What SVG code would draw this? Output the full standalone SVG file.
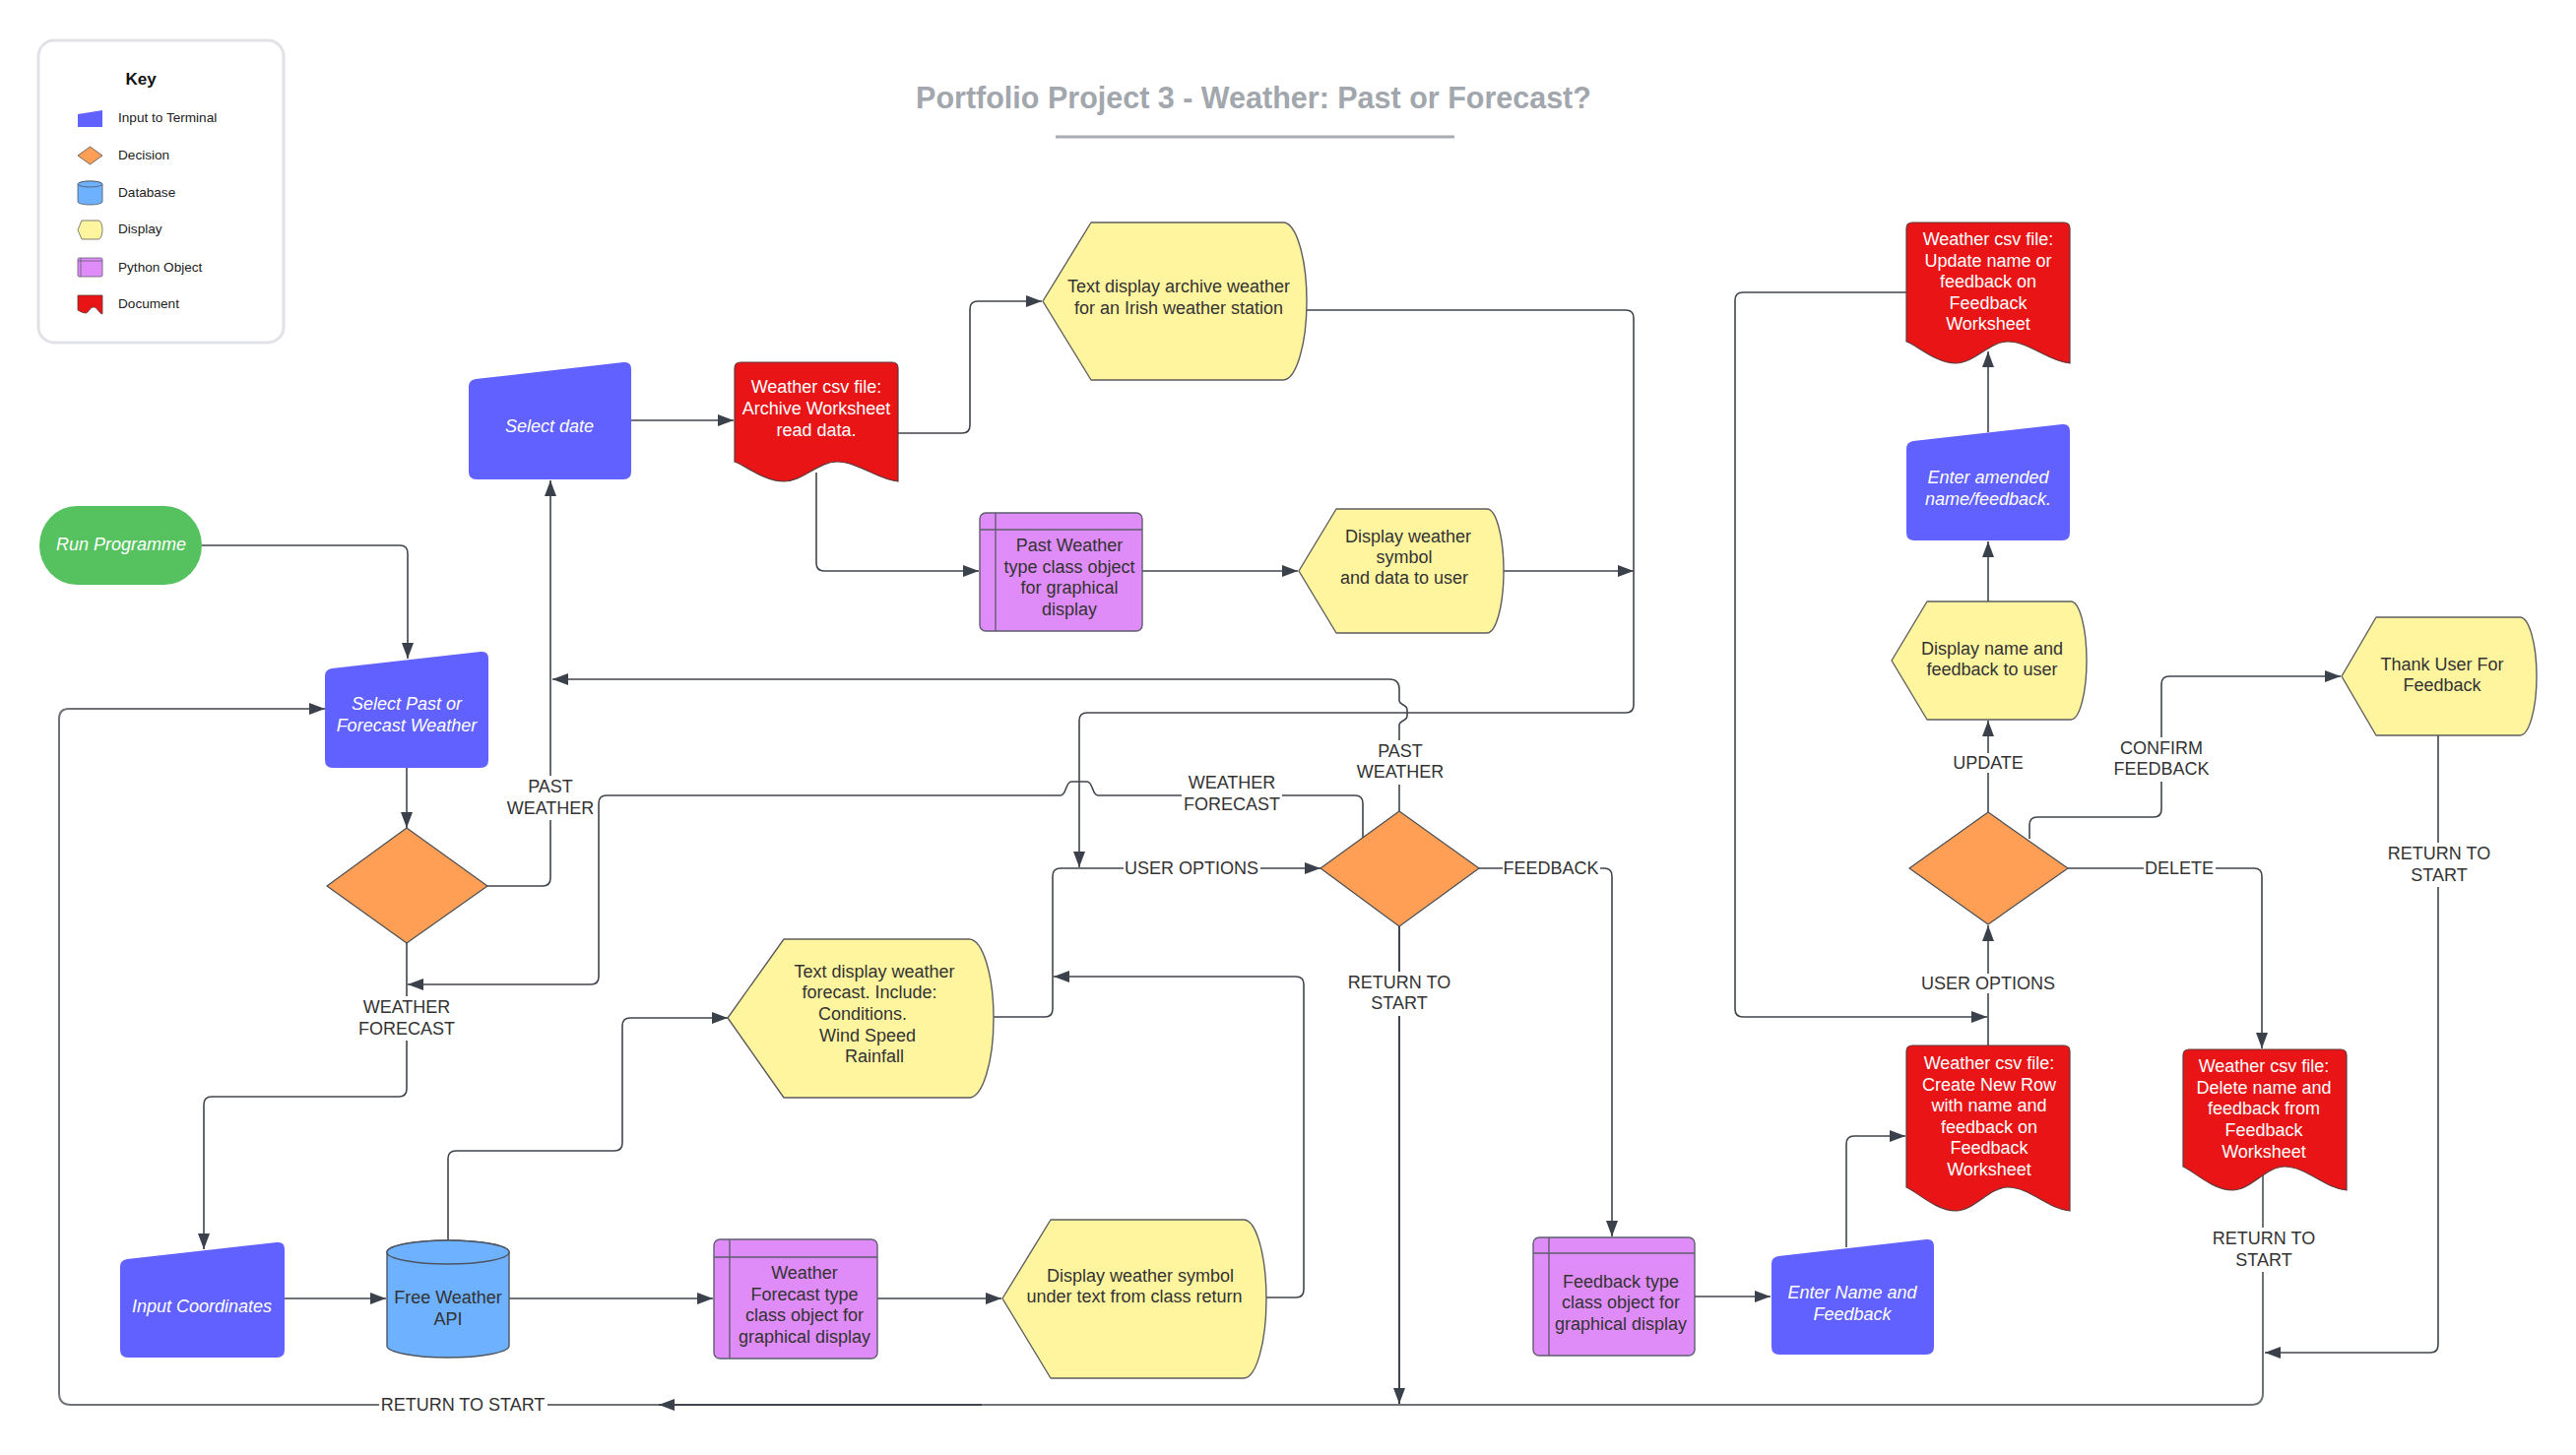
<svg xmlns="http://www.w3.org/2000/svg" width="2616" height="1478" viewBox="0 0 2616 1478">
<style>
text{font-family:"Liberation Sans",Arial,Helvetica,sans-serif;font-size:18px;text-anchor:middle}
.t{fill:#333333}
.tw{fill:#ffffff}
.ti{fill:#ffffff;font-style:italic}
.lbl{fill:#333333}
.lb{fill:#ffffff}
.k{font-size:13.6px;text-anchor:start;fill:#222222}
.conn{fill:none;stroke:#40464e;stroke-width:1.6}
.connl{fill:none;stroke:#6f7379;stroke-width:2}
.inp{fill:#6161ff}
.dec{fill:#ff9f55;stroke:#4a4f56;stroke-width:1.2;stroke-linejoin:round}
.disp{fill:#fff59f;stroke:#5e5e5e;stroke-width:1.4;stroke-linejoin:round}
.py{fill:#df8cf8;stroke:#5e5e6e;stroke-width:1.4}
.pyl{fill:none;stroke:#5e5e6e;stroke-width:1.4}
.doc{fill:#e81416;stroke:#5e3a3a;stroke-width:1.2}
.db{fill:#6db1ff;stroke:#4e5560;stroke-width:1.4}
</style>
<defs>
<marker id="ah" viewBox="0 0 16 12" markerWidth="16" markerHeight="12" refX="16" refY="6" orient="auto" markerUnits="userSpaceOnUse"><path d="M0,0 L16,6 L0,12 Z" fill="#3a414a"/></marker>
</defs>

<g id="title">
<text x="1273" y="110" style="font-size:30.5px;font-weight:bold;fill:#a2a6ad">Portfolio Project 3 - Weather: Past or Forecast?</text>
<line x1="1072" y1="139" x2="1477" y2="139" stroke="#a8acb3" stroke-width="3"/>
</g>

<g id="key">
<rect x="39" y="41" width="249" height="307" rx="16" fill="#ffffff" stroke="#e0e2e7" stroke-width="3"/>
<text x="143" y="86" style="font-size:17px;font-weight:bold;fill:#111">Key</text>
<path d="M79,116 L104,112 V129 H79 Z" class="inp"/>
<text x="120" y="124" class="k">Input to Terminal</text>
<path d="M91.5,149 L104,158 L91.5,167 L79,158 Z" class="dec" style="stroke-width:0.8"/>
<text x="120" y="162" class="k">Decision</text>
<path d="M79,187 V205 A12.5,3 0 0 0 104,205 V187 A12.5,3 0 0 0 79,187 Z" class="db" style="stroke-width:0.8"/>
<ellipse cx="91.5" cy="187" rx="12.5" ry="3" class="db" style="stroke-width:0.8"/>
<text x="120" y="200" class="k">Database</text>
<path d="M79,233.5 L83,224 H100 A4,9.5 0 0 1 100,243 H83 Z" class="disp" style="stroke-width:0.8"/>
<text x="120" y="237" class="k">Display</text>
<rect x="79" y="262" width="25" height="19" rx="1.5" class="py" style="stroke-width:0.8"/>
<path d="M82,262 V281 M79,265 H104" class="pyl" style="stroke-width:0.8"/>
<text x="120" y="276" class="k">Python Object</text>
<path d="M79,300 H104 V319 C100,318 99,312 95,312 C91,312 90,318 87,318 C84,318 81,316 79,315 Z" class="doc" style="stroke-width:0.8"/>
<text x="120" y="313" class="k">Document</text>
</g>

<g id="connectors">
<path class="conn" d="M205,554 H406 Q414,554 414,562 V669" marker-end="url(#ah)"/>
<path class="conn" d="M413,780 V841" marker-end="url(#ah)"/>
<path class="conn" d="M495,900 H551 Q559,900 559,892 V488" marker-end="url(#ah)"/>
<path class="conn" d="M641,427 H745" marker-end="url(#ah)"/>
<path class="conn" d="M912,440 H977 Q985,440 985,432 V314 Q985,306 993,306 H1058" marker-end="url(#ah)"/>
<path class="conn" d="M829,480 V572 Q829,580 837,580 H994" marker-end="url(#ah)"/>
<path class="conn" d="M1160,580 H1318" marker-end="url(#ah)"/>
<path class="conn" d="M1527,580 H1659" marker-end="url(#ah)"/>
<path class="conn" d="M1327,315 H1651 Q1659,315 1659,323 V716 Q1659,724 1651,724 H1104 Q1096,724 1096,732 V881" marker-end="url(#ah)"/>
<path class="conn" d="M1421,824 V737 C1421,731 1429,733 1429,727 V721 C1429,715 1421,717 1421,711 V700 Q1421,690 1411,690 H561" marker-end="url(#ah)"/>
<path class="conn" d="M1384,852 V816 Q1384,808 1376,808 H1115 C1109,808 1110,794 1104,794 H1088 C1082,794 1083,808 1077,808 H616 Q608,808 608,816 V992 Q608,1000 600,1000 H414" marker-end="url(#ah)"/>
<path class="conn" d="M413,958 V1106 Q413,1114 405,1114 H215 Q207,1114 207,1122 V1269" marker-end="url(#ah)"/>
<path class="conn" d="M289,1319 H392" marker-end="url(#ah)"/>
<path class="conn" d="M517,1319 H724" marker-end="url(#ah)"/>
<path class="conn" d="M891,1319 H1017" marker-end="url(#ah)"/>
<path class="conn" d="M455,1260 V1177 Q455,1169 463,1169 H624 Q632,1169 632,1161 V1042 Q632,1034 640,1034 H739" marker-end="url(#ah)"/>
<path class="conn" d="M1286,1318 H1316 Q1324,1318 1324,1310 V1000 Q1324,992 1316,992 H1070" marker-end="url(#ah)"/>
<path class="conn" d="M1009,1033 H1061 Q1069,1033 1069,1025 V890 Q1069,882 1077,882 H1341" marker-end="url(#ah)"/>
<path class="connl" d="M2298,1188 V1415 Q2298,1427 2286,1427 H72 Q60,1427 60,1415 V730 Q60,720 70,720 H330" marker-end="url(#ah)"/>
<path class="conn" d="M997,1427 H669" style="stroke-width:2.2" marker-end="url(#ah)"/>
<path class="conn" d="M1421,941 V1426" style="stroke-width:2" marker-end="url(#ah)"/>
<path class="conn" d="M1502,882 H1629 Q1637,882 1637,890 V1256" marker-end="url(#ah)"/>
<path class="conn" d="M1721,1317 H1798" marker-end="url(#ah)"/>
<path class="conn" d="M1875,1267 V1162 Q1875,1154 1883,1154 H1935" marker-end="url(#ah)"/>
<path class="conn" d="M2019,1062 V940" marker-end="url(#ah)"/>
<path class="conn" d="M1936,297 H1770 Q1762,297 1762,305 V1025 Q1762,1033 1770,1033 H2018" marker-end="url(#ah)"/>
<path class="conn" d="M2019,825 V732" marker-end="url(#ah)"/>
<path class="conn" d="M2019,611 V550" marker-end="url(#ah)"/>
<path class="conn" d="M2019,439 V357" marker-end="url(#ah)"/>
<path class="conn" d="M2061,852 V838 Q2061,830 2069,830 H2187 Q2195,830 2195,822 V695 Q2195,687 2203,687 H2377" marker-end="url(#ah)"/>
<path class="conn" d="M2100,882 H2289 Q2297,882 2297,890 V1065" marker-end="url(#ah)"/>
<path class="conn" d="M2476,747 V1366 Q2476,1374 2468,1374 H2300" marker-end="url(#ah)"/>

<g id="labels">
<rect x="511" y="788" width="96" height="45" class="lb"/>
<text x="559" y="805" class="lbl">PAST</text>
<text x="559" y="827" class="lbl">WEATHER</text>
<rect x="362" y="1012" width="102" height="45" class="lb"/>
<text x="413" y="1029" class="lbl">WEATHER</text>
<text x="413" y="1051" class="lbl">FORECAST</text>
<rect x="1374" y="752" width="96" height="45" class="lb"/>
<text x="1422" y="769" class="lbl">PAST</text>
<text x="1422" y="790" class="lbl">WEATHER</text>
<rect x="1200" y="784" width="102" height="45" class="lb"/>
<text x="1251" y="801" class="lbl">WEATHER</text>
<text x="1251" y="823" class="lbl">FORECAST</text>
<rect x="1141" y="872" width="139" height="20" class="lb"/>
<text x="1210" y="888" class="lbl">USER OPTIONS</text>
<rect x="1526" y="872" width="99" height="20" class="lb"/>
<text x="1575" y="888" class="lbl">FEEDBACK</text>
<rect x="1368" y="987" width="108" height="45" class="lb"/>
<text x="1421" y="1004" class="lbl">RETURN TO</text>
<text x="1421" y="1025" class="lbl">START</text>
<rect x="385" y="1417" width="171" height="20" class="lb"/>
<text x="470" y="1433" class="lbl">RETURN TO START</text>
<rect x="1981" y="765" width="76" height="20" class="lb"/>
<text x="2019" y="781" class="lbl">UPDATE</text>
<rect x="2144" y="749" width="102" height="45" class="lb"/>
<text x="2195" y="766" class="lbl">CONFIRM</text>
<text x="2195" y="787" class="lbl">FEEDBACK</text>
<rect x="2177" y="872" width="73" height="20" class="lb"/>
<text x="2213" y="888" class="lbl">DELETE</text>
<rect x="1950" y="989" width="139" height="20" class="lb"/>
<text x="2019" y="1005" class="lbl">USER OPTIONS</text>
<rect x="2424" y="856" width="108" height="45" class="lb"/>
<text x="2477" y="873" class="lbl">RETURN TO</text>
<text x="2477" y="895" class="lbl">START</text>
<rect x="2246" y="1247" width="108" height="45" class="lb"/>
<text x="2299" y="1264" class="lbl">RETURN TO</text>
<text x="2299" y="1286" class="lbl">START</text>
</g>
</g>

<g id="run-programme">
<rect x="40" y="514" width="165" height="80" rx="38" ry="40" fill="#55c25f"/>
<text x="123" y="559" class="ti">Run Programme</text>
</g>

<g id="select-past-forecast">
<path d="M330,687 Q330,680 337,679 L488,662 Q496,661 496,669 V772 Q496,780 488,780 H338 Q330,780 330,772 Z" class="inp"/>
<text x="413" y="721" class="ti">Select Past or</text>
<text x="413" y="743" class="ti">Forecast Weather</text>
</g>

<g id="decision-past-forecast">
<path d="M413,841 L495,900 L413,958 L332,900 Z" class="dec"/>
</g>

<g id="select-date">
<path d="M476,393 Q476,386 483,385 L633,368 Q641,367 641,375 V479 Q641,487 633,487 H484 Q476,487 476,479 Z" class="inp"/>
<text x="558" y="439" class="ti">Select date</text>
</g>

<g id="archive-worksheet">
<path d="M746,374 Q746,368 752,368 H906 Q912,368 912,374 V489 C891,487 871,469 850,469 C831,469 815,489 796,489 C776,489 756,472 746,469 Z" class="doc"/>
<text x="829" y="399" class="tw">Weather csv file:</text>
<text x="829" y="421" class="tw">Archive Worksheet</text>
<text x="829" y="443" class="tw">read data.</text>
</g>

<g id="text-display-archive">
<path d="M1059,306 L1108,226 H1303 A24,80 0 0 1 1303,386 H1108 Z" class="disp"/>
<text x="1197" y="297" class="t">Text display archive weather</text>
<text x="1197" y="319" class="t">for an Irish weather station</text>
</g>

<g id="past-weather-object">
<rect x="995" y="521" width="165" height="120" rx="6" class="py"/>
<path d="M1011,521 V641 M995,538 H1160" class="pyl"/>
<text x="1086" y="560" class="t">Past Weather</text>
<text x="1086" y="582" class="t">type class object</text>
<text x="1086" y="603" class="t">for graphical</text>
<text x="1086" y="625" class="t">display</text>
</g>

<g id="display-weather-symbol">
<path d="M1319,580 L1357,517 H1510 A17,63 0 0 1 1510,643 H1357 Z" class="disp"/>
<text x="1430" y="551" class="t">Display weather</text>
<text x="1426" y="572" class="t">symbol</text>
<text x="1426" y="593" class="t">and data to user</text>
</g>

<g id="decision-user-options">
<path d="M1421,824 L1502,882 L1421,941 L1341,882 Z" class="dec"/>
</g>

<g id="text-display-forecast">
<path d="M739,1034 L796,954 H984 A25,80.5 0 0 1 984,1115 H796 Z" class="disp"/>
<text x="888" y="993" class="t">Text display weather</text>
<text x="883" y="1014" class="t">forecast. Include:</text>
<text x="876" y="1036" class="t">Conditions.</text>
<text x="881" y="1058" class="t">Wind Speed</text>
<text x="888" y="1079" class="t">Rainfall</text>
</g>

<g id="input-coordinates">
<path d="M122,1287 Q122,1280 129,1279 L281,1262 Q289,1261 289,1269 V1371 Q289,1379 281,1379 H130 Q122,1379 122,1371 Z" class="inp"/>
<text x="205" y="1333" class="ti">Input Coordinates</text>
</g>

<g id="free-weather-api">
<path d="M393,1272 V1367 A62,12 0 0 0 517,1367 V1272 A62,12 0 0 0 393,1272 Z" class="db"/>
<ellipse cx="455" cy="1272" rx="62" ry="12" class="db"/>
<text x="455" y="1324" class="t">Free Weather</text>
<text x="455" y="1346" class="t">API</text>
</g>

<g id="forecast-object">
<rect x="725" y="1259" width="166" height="121" rx="6" class="py"/>
<path d="M741,1259 V1380 M725,1277 H891" class="pyl"/>
<text x="817" y="1299" class="t">Weather</text>
<text x="817" y="1321" class="t">Forecast type</text>
<text x="817" y="1342" class="t">class object for</text>
<text x="817" y="1364" class="t">graphical display</text>
</g>

<g id="display-symbol-under-text">
<path d="M1018,1319 L1067,1239 H1263 A23,80.5 0 0 1 1263,1400 H1067 Z" class="disp"/>
<text x="1158" y="1302" class="t">Display weather symbol</text>
<text x="1152" y="1323" class="t">under text from class return</text>
</g>

<g id="feedback-object">
<rect x="1557" y="1257" width="164" height="120" rx="6" class="py"/>
<path d="M1573,1257 V1377 M1557,1273 H1721" class="pyl"/>
<text x="1646" y="1308" class="t">Feedback type</text>
<text x="1646" y="1329" class="t">class object for</text>
<text x="1646" y="1351" class="t">graphical display</text>
</g>

<g id="enter-name-feedback">
<path d="M1799,1284 Q1799,1277 1806,1276 L1956,1259 Q1964,1258 1964,1266 V1368 Q1964,1376 1956,1376 H1807 Q1799,1376 1799,1368 Z" class="inp"/>
<text x="1881" y="1319" class="ti">Enter Name and</text>
<text x="1881" y="1341" class="ti">Feedback</text>
</g>

<g id="create-new-row">
<path d="M1936,1068 Q1936,1062 1942,1062 H2096 Q2102,1062 2102,1068 V1230 C2080,1228 2061,1206 2039,1206 C2020,1206 2005,1230 1986,1230 C1966,1230 1946,1210 1936,1206 Z" class="doc"/>
<text x="2020" y="1086" class="tw">Weather csv file:</text>
<text x="2020" y="1108" class="tw">Create New Row</text>
<text x="2020" y="1129" class="tw">with name and</text>
<text x="2020" y="1151" class="tw">feedback on</text>
<text x="2020" y="1172" class="tw">Feedback</text>
<text x="2020" y="1194" class="tw">Worksheet</text>
</g>

<g id="decision-feedback">
<path d="M2019,825 L2100,882 L2019,939 L1939,882 Z" class="dec"/>
</g>

<g id="display-name-feedback">
<path d="M1921,671 L1957,611 H2103 A16,60 0 0 1 2103,731 H1957 Z" class="disp"/>
<text x="2023" y="665" class="t">Display name and</text>
<text x="2023" y="686" class="t">feedback to user</text>
</g>

<g id="enter-amended">
<path d="M1936,456 Q1936,449 1943,448 L2094,431 Q2102,430 2102,438 V541 Q2102,549 2094,549 H1944 Q1936,549 1936,541 Z" class="inp"/>
<text x="2019" y="491" class="ti">Enter amended</text>
<text x="2019" y="513" class="ti">name/feedback.</text>
</g>

<g id="update-feedback">
<path d="M1936,232 Q1936,226 1942,226 H2096 Q2102,226 2102,232 V369 C2080,367 2061,347 2039,347 C2020,347 2005,369 1986,369 C1966,369 1946,350 1936,347 Z" class="doc"/>
<text x="2019" y="249" class="tw">Weather csv file:</text>
<text x="2019" y="271" class="tw">Update name or</text>
<text x="2019" y="292" class="tw">feedback on</text>
<text x="2019" y="314" class="tw">Feedback</text>
<text x="2019" y="335" class="tw">Worksheet</text>
</g>

<g id="thank-user">
<path d="M2378,687 L2413,627 H2559 A17,60 0 0 1 2559,747 H2413 Z" class="disp"/>
<text x="2480" y="681" class="t">Thank User For</text>
<text x="2480" y="702" class="t">Feedback</text>
</g>

<g id="delete-feedback">
<path d="M2217,1072 Q2217,1066 2223,1066 H2377 Q2383,1066 2383,1072 V1209 C2361,1207 2342,1185 2320,1185 C2301,1185 2286,1209 2267,1209 C2247,1209 2227,1189 2217,1185 Z" class="doc"/>
<text x="2299" y="1089" class="tw">Weather csv file:</text>
<text x="2299" y="1111" class="tw">Delete name and</text>
<text x="2299" y="1132" class="tw">feedback from</text>
<text x="2299" y="1154" class="tw">Feedback</text>
<text x="2299" y="1176" class="tw">Worksheet</text>
</g>
</svg>
